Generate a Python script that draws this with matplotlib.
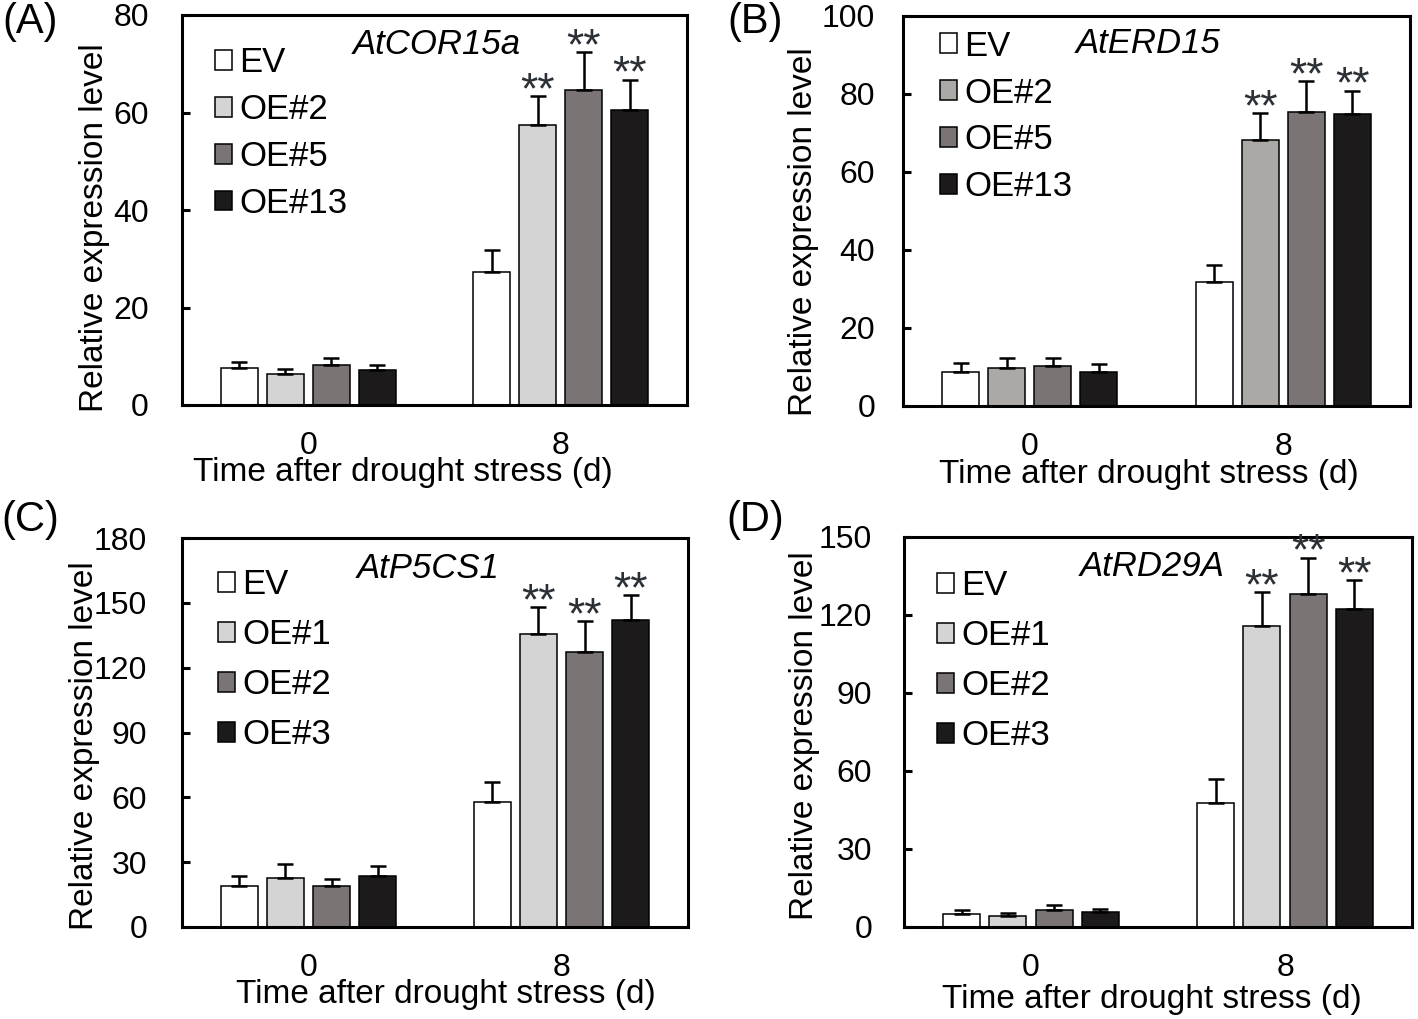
import numpy as np
import matplotlib
matplotlib.use("Agg")
import matplotlib.pyplot as plt

plt.rcParams['font.family'] = ['Liberation Sans', 'DejaVu Sans']

# groups: 0 d and 8 d after drought stress
times = ['0', '8']

# panel A - AtCOR15a
genes_a = 'AtCOR15a'
lines_a = ['EV', 'OE#2', 'OE#5', 'OE#13']
mean_a_0 = [7.6, 6.4, 8.2, 7.2]
sd_a_0 = [1.2, 1.0, 1.4, 1.0]
mean_a_8 = [27.3, 57.4, 64.6, 60.5]
sd_a_8 = [4.5, 6.0, 7.8, 6.2]

# panel B - AtERD15
genes_b = 'AtERD15'
lines_b = ['EV', 'OE#2', 'OE#5', 'OE#13']
mean_b_0 = [8.7, 9.7, 10.2, 8.7]
sd_b_0 = [2.3, 2.6, 2.1, 2.1]
mean_b_8 = [31.8, 68.2, 75.4, 74.9]
sd_b_8 = [4.4, 6.9, 7.9, 5.9]

# panel C - AtP5CS1
genes_c = 'AtP5CS1'
lines_c = ['EV', 'OE#1', 'OE#2', 'OE#3']
mean_c_0 = [18.8, 22.9, 19.2, 23.8]
sd_c_0 = [4.6, 6.4, 3.2, 4.6]
mean_c_8 = [57.7, 135.6, 127.3, 142.0]
sd_c_8 = [9.6, 12.4, 14.2, 11.5]

# panel D - AtRD29A
genes_d = 'AtRD29A'
lines_d = ['EV', 'OE#1', 'OE#2', 'OE#3']
mean_d_0 = [5.0, 4.2, 6.5, 5.8]
sd_d_0 = [1.5, 1.2, 2.0, 1.1]
mean_d_8 = [47.7, 115.8, 128.0, 122.3]
sd_d_8 = [9.3, 13.0, 14.0, 11.2]

# significance marks for 8 d (EV has none)
sig = ['', '**', '**', '**']

colors_ac = ['white', '#d4d4d4', '#7a7574', '#1c1a1a']
colors_b = ['white', '#aba8a6', '#7a7574', '#1c1a1a']

W, H = 1418, 1019
fig = plt.figure(figsize=(W / 100, H / 100), dpi=100)


def px_rect(l, r, t, b):
    return [l / W, 1 - b / H, (r - l) / W, (b - t) / H]


panels = [
    dict(rect=px_rect(182, 687, 15, 405), gene=genes_a, lines=lines_a,
         m0=mean_a_0, s0=sd_a_0, m8=mean_a_8, s8=sd_a_8, colors=colors_ac,
         ymax=80, step=20, letter='(A)', letter_xy=(30, 22),
         gene_xy=(0.505, 0.925), leg_xy=(0.065, 0.92), lspace=0.40,
         ypad=24, ylab_xy=(-0.143, 0.456), xlab_xy=(0.438, -0.133)),
    dict(rect=px_rect(903, 1410, 16, 406), gene=genes_b, lines=lines_b,
         m0=mean_b_0, s0=sd_b_0, m8=mean_b_8, s8=sd_b_8, colors=colors_b,
         ymax=100, step=20, letter='(B)', letter_xy=(755, 22),
         gene_xy=(0.483, 0.93), leg_xy=(0.073, 0.965), lspace=0.40,
         ypad=20, ylab_xy=(-0.166, 0.446), xlab_xy=(0.485, -0.135)),
    dict(rect=px_rect(182, 688, 538, 927), gene=genes_c, lines=lines_c,
         m0=mean_c_0, s0=sd_c_0, m8=mean_c_8, s8=sd_c_8, colors=colors_ac,
         ymax=180, step=30, letter='(C)', letter_xy=(30, 520),
         gene_xy=(0.486, 0.922), leg_xy=(0.071, 0.922), lspace=0.49,
         ypad=25, ylab_xy=(-0.162, 0.465), xlab_xy=(0.522, -0.133)),
    dict(rect=px_rect(904, 1412, 537, 927), gene=genes_d, lines=lines_d,
         m0=mean_d_0, s0=sd_d_0, m8=mean_d_8, s8=sd_d_8, colors=colors_ac,
         ymax=150, step=30, letter='(D)', letter_xy=(755, 520),
         gene_xy=(0.488, 0.925), leg_xy=(0.065, 0.918), lspace=0.49,
         ypad=23, ylab_xy=(-0.165, 0.49), xlab_xy=(0.488, -0.146)),
]

x = np.arange(len(times))
bw = 0.146
gap = 0.182

for p in panels:
    ax = fig.add_axes(p['rect'])
    means = np.array([p['m0'], p['m8']])
    sds = np.array([p['s0'], p['s8']])
    for i, lab in enumerate(p['lines']):
        xi = x + (i - 1.5) * gap
        ax.bar(xi, means[:, i], width=bw, color=p['colors'][i],
               edgecolor='black', linewidth=1.1, label=lab, zorder=2)
        ax.errorbar(xi, means[:, i], yerr=[np.zeros(2), sds[:, i]],
                    fmt='none', ecolor='black', elinewidth=1.8,
                    capsize=5.5, capthick=1.8, zorder=3)
        if sig[i]:
            ax.annotate(sig[i], (xi[1], means[1, i] + sds[1, i]),
                        xytext=(0, -5), textcoords='offset points',
                        ha='center', va='baseline', fontsize=32,
                        color='#2b2f36', annotation_clip=False)

    ax.set_xlim(-0.5, 1.5)
    ax.set_ylim(0, p['ymax'])
    ax.set_yticks(np.arange(0, p['ymax'] + 1, p['step']))
    ax.set_xticks(x)
    ax.set_xticklabels(times)
    ax.tick_params(axis='y', direction='in', length=6, width=2.2,
                   labelsize=23, pad=p['ypad'])
    ax.tick_params(axis='x', length=0, labelsize=23, pad=19)
    for s in ax.spines.values():
        s.set_linewidth(2.2)

    ax.set_ylabel('Relative expression level', fontsize=24)
    ax.yaxis.set_label_coords(*p['ylab_xy'])
    ax.set_xlabel('Time after drought stress (d)', fontsize=24)
    ax.xaxis.set_label_coords(*p['xlab_xy'])

    ax.text(p['gene_xy'][0], p['gene_xy'][1], p['gene'], transform=ax.transAxes,
            ha='center', va='center', fontsize=25, style='italic')

    ax.legend(loc='upper left', bbox_to_anchor=p['leg_xy'], frameon=False,
              fontsize=25, handlelength=0.5, handleheight=0.5,
              handletextpad=0.2, labelspacing=p['lspace'], borderpad=0,
              borderaxespad=0)

    fig.text(p['letter_xy'][0] / W, 1 - p['letter_xy'][1] / H, p['letter'],
             ha='center', va='center', fontsize=30)

fig.savefig('out.png', dpi=100)
